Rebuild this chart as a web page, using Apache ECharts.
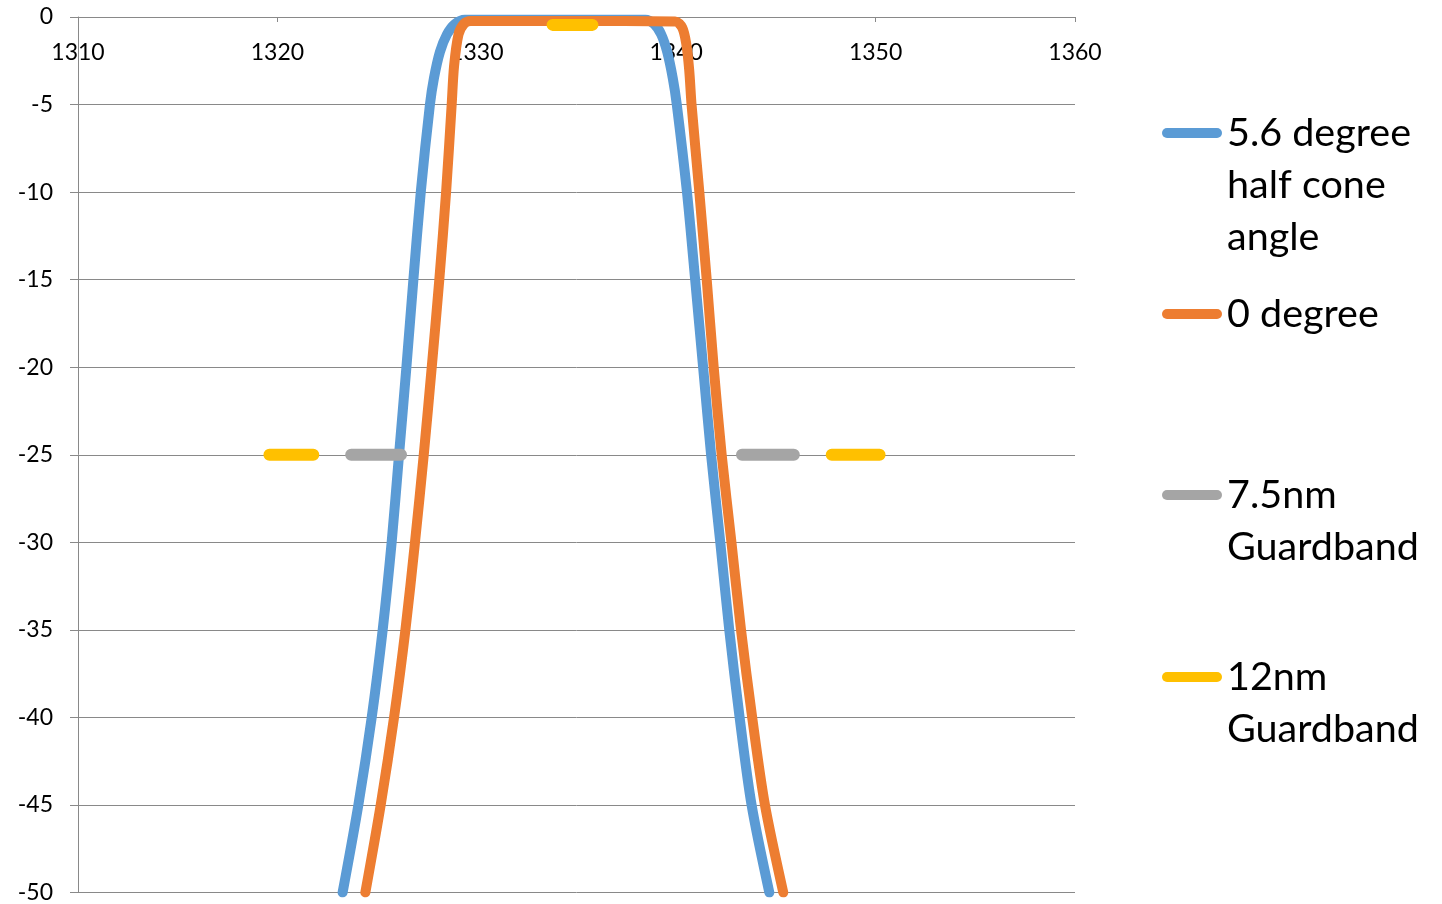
<!DOCTYPE html>
<html>
<head>
<meta charset="utf-8">
<script src="https://cdn.jsdelivr.net/npm/echarts@6/dist/echarts.min.js"></script>
<style>
  html, body { margin: 0; padding: 0; background: #fff; }
  #chart { width: 1442px; height: 904px; }
</style>
</head>
<body>
<div id="chart"></div>
<script>
// ---- data ----
const seriesNames = ['5.6 degree half cone angle', '0 degree', '7.5nm Guardband', '12nm Guardband'];
const xTicks = [1310, 1320, 1330, 1340, 1350, 1360];
const yTicks = [0, -5, -10, -15, -20, -25, -30, -35, -40, -45, -50];

// 5.6 degree half cone angle: wavelength (nm) and loss (dB)
const blueX = [1323.27, 1324.06, 1324.73, 1325.28, 1325.73, 1326.1, 1326.47, 1326.82, 1327.19, 1327.65, 1327.85, 1328.15, 1328.5, 1328.9, 1329.4, 1334.0, 1338.45, 1338.9, 1339.25, 1339.55, 1339.83, 1340.03, 1340.54, 1340.95, 1341.35, 1341.75, 1342.21, 1342.66, 1343.18, 1343.78, 1344.67];
const blueY = [-50, -45, -40, -35, -30, -25, -20, -15, -10, -5, -3.5, -2.0, -1.0, -0.4, -0.15, -0.15, -0.15, -0.4, -1.0, -2.0, -3.5, -5, -10, -15, -20, -25, -30, -35, -40, -45, -50];

// 0 degree
const orangeX = [1324.41, 1325.18, 1325.85, 1326.42, 1326.9, 1327.34, 1327.74, 1328.12, 1328.46, 1328.74, 1328.86, 1329.08, 1329.35, 1329.7, 1335.0, 1339.95, 1340.3, 1340.5, 1340.65, 1340.77, 1341.16, 1341.53, 1341.88, 1342.28, 1342.77, 1343.25, 1343.81, 1344.45, 1345.37];
const orangeY = [-50, -45, -40, -35, -30, -25, -20, -15, -10, -5, -2.8, -1.0, -0.4, -0.23, -0.23, -0.25, -0.6, -1.5, -3, -5, -10, -15, -20, -25, -30, -35, -40, -45, -50];

// 7.5nm Guardband segments (start, end) at a level
const gb75Start = [1323.7, 1343.3];
const gb75End = [1326.2, 1345.9];
const gb75Level = [-25, -25];

// 12nm Guardband segments
const gb12Start = [1333.8, 1319.6, 1347.8];
const gb12End = [1335.8, 1321.8, 1350.2];
const gb12Level = [-0.45, -25, -25];

// ---- build ----
function pairs(xs, ys) { return xs.map((x, i) => [x, ys[i]]); }
function segs(s, e, lv) {
  const out = [];
  s.forEach((v, i) => {
    if (i > 0) out.push(['-', '-']);
    out.push([v, lv[i]]);
    out.push([e[i], lv[i]]);
  });
  return out;
}

const colors = ['#5B9BD5', '#ED7D31', '#A5A5A5', '#FFC000'];
const FONT = 'Lato';
const iconPath = 'path://M5,0 L55,0 A5,5 0 0 1 55,10 L5,10 A5,5 0 0 1 5,0 Z';

const legendText = {
  '5.6 degree half cone angle': '\n\n5.6 degree\nhalf cone\nangle',
  '0 degree': '0 degree',
  '7.5nm Guardband': '\n7.5nm\nGuardband',
  '12nm Guardband': '\n12nm\nGuardband'
};
const legendTops = [3, 288, 417, 599];

const chart = echarts.init(document.getElementById('chart'), null, { renderer: 'canvas' });

const option = {
  backgroundColor: '#ffffff',
  animation: false,
  color: colors,
  grid: { left: 78, right: 367, top: 17, bottom: 8, containLabel: false },
  legend: seriesNames.map((n, i) => ({
    data: [n],
    left: 1162,
    top: legendTops[i],
    padding: 0,
    icon: iconPath,
    itemWidth: 60,
    itemHeight: 10,
    selectedMode: false,
    formatter: name => legendText[name],
    textStyle: { fontFamily: FONT, fontSize: 39.5, lineHeight: 52, color: '#000' }
  })),
  xAxis: {
    type: 'value',
    position: 'top',
    min: 1310, max: 1360, interval: 10,
    axisLine: { show: true, onZero: false, lineStyle: { color: '#898989', width: 1 } },
    axisTick: { show: true, inside: true, length: 5, lineStyle: { color: '#898989' } },
    axisLabel: { inside: true, margin: 24, fontFamily: FONT, fontSize: 23, color: '#000', formatter: v => String(v) },
    splitLine: { show: false }
  },
  yAxis: {
    type: 'value',
    min: -50, max: 0, interval: 5,
    axisLine: { show: true, onZero: false, lineStyle: { color: '#898989', width: 1 } },
    axisTick: { show: true, inside: false, length: 8, lineStyle: { color: '#898989' } },
    axisLabel: { margin: 25, fontFamily: FONT, fontSize: 23, color: '#000', formatter: v => String(v) },
    splitLine: { show: true, lineStyle: { color: '#898989', width: 1 } }
  },
  series: [
    {
      name: seriesNames[0], type: 'line', data: pairs(blueX, blueY),
      showSymbol: false, symbol: 'none', smooth: 0.3,
      lineStyle: { color: colors[0], width: 10, cap: 'round', join: 'round' },
      itemStyle: { color: colors[0] }, z: 2
    },
    {
      name: seriesNames[1], type: 'line', data: pairs(orangeX, orangeY),
      showSymbol: false, symbol: 'none', smooth: 0.3,
      lineStyle: { color: colors[1], width: 10, cap: 'round', join: 'round' },
      itemStyle: { color: colors[1] }, z: 3
    },
    {
      name: seriesNames[2], type: 'line', data: segs(gb75Start, gb75End, gb75Level),
      showSymbol: false, symbol: 'none', connectNulls: false,
      lineStyle: { color: colors[2], width: 12, cap: 'round' },
      itemStyle: { color: colors[2] }, z: 4
    },
    {
      name: seriesNames[3], type: 'line', data: segs(gb12Start, gb12End, gb12Level),
      showSymbol: false, symbol: 'none', connectNulls: false,
      lineStyle: { color: colors[3], width: 12, cap: 'round' },
      itemStyle: { color: colors[3] }, z: 5
    }
  ]
};

chart.setOption(option);
</script>
</body>
</html>
